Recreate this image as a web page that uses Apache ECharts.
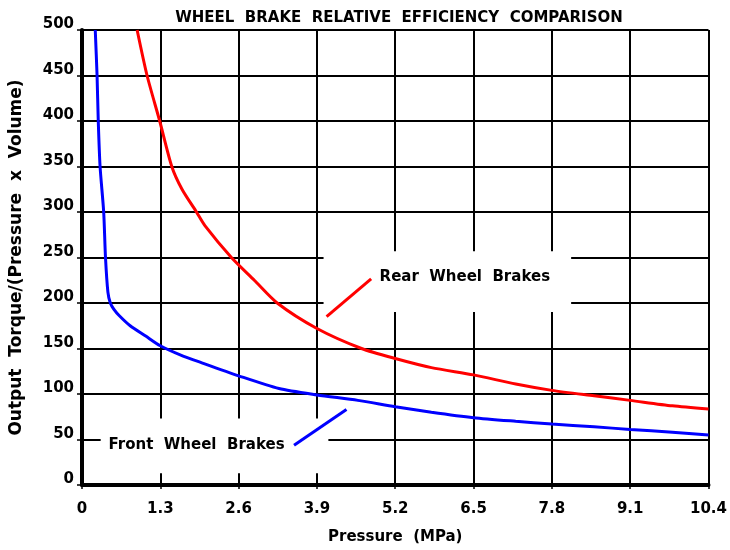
<!DOCTYPE html>
<html>
<head>
<meta charset="utf-8">
<script src="https://cdn.jsdelivr.net/npm/echarts@6/dist/echarts.min.js"></script>
<style>
  html, body { margin: 0; padding: 0; background: #fff; }
  #chart { width: 730px; height: 550px; }
</style>
</head>
<body>
<div id="chart"></div>
<script>
// Pressure (MPa) and relative efficiency for the front wheel brakes
const frontPressure = [0.22, 0.25, 0.27, 0.30, 0.36, 0.39, 0.43, 0.47, 0.53, 0.62, 0.80, 1.05, 1.30, 1.63, 2.0, 2.6, 3.27, 3.9, 4.58, 5.2, 5.8, 6.5, 7.2, 7.8, 8.5, 9.1, 9.8, 10.4];
const frontEfficiency = [500, 450, 400, 350, 300, 250, 212, 200, 193, 186, 175, 164, 153, 143, 134, 120, 106, 99, 93, 86, 80, 74, 70, 67, 64, 61, 58, 55];

// Pressure (MPa) and relative efficiency for the rear wheel brakes
const rearPressure = [0.915, 1.08, 1.29, 1.49, 1.66, 1.90, 2.04, 2.48, 2.86, 3.24, 3.9, 4.64, 5.2, 5.8, 6.5, 7.2, 7.8, 8.5, 9.1, 9.8, 10.4];
const rearEfficiency = [500, 450, 400, 350, 325, 300, 285, 250, 225, 200, 172, 150, 139, 129, 121, 111, 104, 98, 93, 87, 83.5];

// Axis ranges
const xTicks = { min: 0, max: 10.4, step: 1.3 };
const yTicks = { min: 0, max: 500, step: 50 };

// Callout labels (text, anchor in data units, leader line, clear box behind the text)
const rearLabel = {
  text: 'Rear  Wheel  Brakes',
  at: [4.94, 228.7],
  leader: [[4.06, 185], [4.80, 226.5]],
  box: [[4.01, 257], [8.12, 190]]
};
const frontLabel = {
  text: 'Front  Wheel  Brakes',
  at: [0.44, 43.8],
  leader: [[3.52, 43.8], [4.39, 83]],
  box: [[0.31, 73], [4.09, 13]]
};

const pair = (xs, ys) => xs.map((x, i) => [x, ys[i]]);
const FONT = 'DejaVu Sans';

const chart = echarts.init(document.getElementById('chart'), null, { renderer: 'canvas' });

const option = {
  animation: false,
  backgroundColor: '#ffffff',
  title: {
    text: 'WHEEL  BRAKE  RELATIVE  EFFICIENCY  COMPARISON',
    left: 394,
    textAlign: 'center',
    top: 6,
    textStyle: { fontFamily: FONT, fontSize: 15, fontWeight: 'bold', color: '#000' }
  },
  grid: { left: 81, right: 16, top: 30, bottom: 63, containLabel: false },
  xAxis: {
    type: 'value',
    min: xTicks.min,
    max: xTicks.max,
    interval: xTicks.step,
    name: 'Pressure  (MPa)',
    nameLocation: 'middle',
    nameGap: 45,
    nameTextStyle: { fontFamily: FONT, fontSize: 15, fontWeight: 'bold', color: '#000' },
    axisLine: { show: true, lineStyle: { color: '#000', width: 4 } },
    axisTick: { show: true, length: 4, lineStyle: { color: '#000', width: 1.5 } },
    axisLabel: {
      margin: 17,
      fontFamily: FONT, fontSize: 15, fontWeight: 'bold', color: '#000',
      formatter: v => (Math.round(v * 10) / 10).toString()
    },
    splitLine: { show: true, lineStyle: { color: '#000', width: 2 } }
  },
  yAxis: {
    type: 'value',
    min: yTicks.min,
    max: yTicks.max,
    interval: yTicks.step,
    name: 'Output  Torque/(Pressure  x  Volume)',
    nameLocation: 'middle',
    nameGap: 57,
    nameTextStyle: { fontFamily: FONT, fontSize: 17, fontWeight: 'bold', color: '#000' },
    axisLine: { show: true, lineStyle: { color: '#000', width: 4 } },
    axisTick: { show: true, length: 5, lineStyle: { color: '#000', width: 1.5 } },
    axisLabel: {
      margin: 8,
      verticalAlign: 'bottom',
      lineHeight: 11,
      fontFamily: FONT, fontSize: 15, fontWeight: 'bold', color: '#000'
    },
    splitLine: { show: true, lineStyle: { color: '#000', width: 2 } }
  },
  series: [
    {
      // white boxes that clear the grid behind each callout
      type: 'line',
      data: [],
      z: 1,
      silent: true,
      markArea: {
        silent: true,
        itemStyle: { color: '#ffffff', opacity: 1 },
        label: { show: false },
        data: [
          [{ coord: rearLabel.box[0] }, { coord: rearLabel.box[1] }],
          [{ coord: frontLabel.box[0] }, { coord: frontLabel.box[1] }]
        ]
      }
    },
    {
      name: 'Rear Wheel Brakes',
      type: 'line',
      data: pair(rearPressure, rearEfficiency),
      z: 3,
      smooth: 0.25,
      showSymbol: false,
      lineStyle: { color: '#ff0000', width: 3 },
      markLine: {
        silent: true,
        symbol: ['none', 'none'],
        label: { show: false },
        lineStyle: { color: '#ff0000', width: 3, type: 'solid' },
        data: [[{ coord: rearLabel.leader[0] }, { coord: rearLabel.leader[1] }]]
      },
      markPoint: {
        silent: true,
        symbol: 'circle',
        symbolSize: 0,
        label: {
          show: true, position: 'right', distance: 0,
          formatter: rearLabel.text,
          fontFamily: FONT, fontSize: 15, fontWeight: 'bold', color: '#000'
        },
        data: [{ coord: rearLabel.at }]
      }
    },
    {
      name: 'Front Wheel Brakes',
      type: 'line',
      data: pair(frontPressure, frontEfficiency),
      z: 3,
      smooth: 0.25,
      showSymbol: false,
      lineStyle: { color: '#0000ff', width: 3 },
      markLine: {
        silent: true,
        symbol: ['none', 'none'],
        label: { show: false },
        lineStyle: { color: '#0000ff', width: 3, type: 'solid' },
        data: [[{ coord: frontLabel.leader[0] }, { coord: frontLabel.leader[1] }]]
      },
      markPoint: {
        silent: true,
        symbol: 'circle',
        symbolSize: 0,
        label: {
          show: true, position: 'right', distance: 0,
          formatter: frontLabel.text,
          fontFamily: FONT, fontSize: 15, fontWeight: 'bold', color: '#000'
        },
        data: [{ coord: frontLabel.at }]
      }
    }
  ]
};

chart.setOption(option);
</script>
</body>
</html>
